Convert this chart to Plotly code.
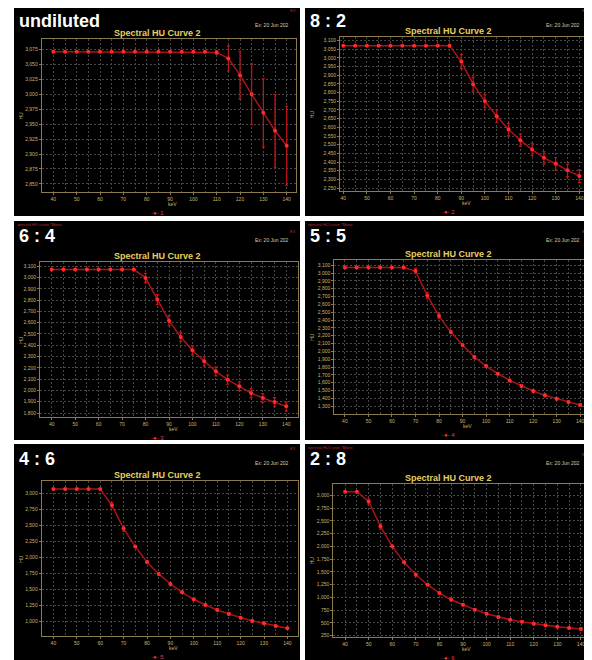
import plotly.graph_objects as go

W, H = 592, 660
OFF = 8  # default page body margin, compensated so the picture lines up with the reference

# ---------------- data ----------------
kev = [40, 45, 50, 55, 60, 65, 70, 75, 80, 85, 90, 95, 100, 105, 110, 115, 120, 125, 130, 135, 140]
x_ticks = [40, 50, 60, 70, 80, 90, 100, 110, 120, 130, 140]

hu_undiluted = [3071, 3071, 3071, 3071, 3071, 3071, 3071, 3071, 3071, 3071, 3071, 3071, 3071, 3071, 3070,
                3060, 3032, 3000, 2969, 2939, 2914]
err_undiluted = [0, 0, 0, 0, 0, 0, 0, 0, 0, 0, 0, 0, 0, 0, 3, 21, 40, 51, 57, 61, 66]

hu_8_2 = [3071, 3071, 3071, 3071, 3071, 3071, 3071, 3071, 3071, 3071,
          2979, 2849, 2750, 2664, 2587, 2526, 2472, 2424, 2390, 2352, 2319]
err_8_2 = [0, 0, 0, 0, 0, 0, 0, 0, 0, 8, 40, 40, 38, 36, 36, 36, 36, 36, 36, 36, 36]

hu_6_4 = [3071, 3071, 3071, 3071, 3071, 3071, 3071, 3071,
          2997, 2805, 2618, 2474, 2355, 2258, 2169, 2095, 2036, 1977, 1933, 1897, 1859]
err_6_4 = [0, 0, 0, 0, 0, 0, 0, 0, 40, 44, 44, 40, 40, 40, 40, 40, 40, 40, 40, 40, 40]

hu_5_5 = [3071, 3071, 3071, 3071, 3071, 3071,
          3025, 2714, 2450, 2246, 2080, 1927, 1812, 1714, 1629, 1557, 1493, 1438, 1395, 1352, 1314]
err_5_5 = [0, 0, 0, 0, 0, 0, 34, 40, 34, 17, 15, 15, 15, 15, 15, 15, 15, 15, 15, 15, 15]

hu_4_6 = [3071, 3071, 3071, 3071, 3071,
          2817, 2452, 2170, 1930, 1742, 1585, 1454, 1345, 1256, 1178, 1115, 1057, 1005, 969, 927, 890]
err_4_6 = [0, 0, 0, 0, 0, 42, 42, 16, 16, 16, 16, 16, 16, 16, 16, 16, 16, 16, 16, 16, 16]

hu_2_8 = [3071, 3071,
          2882, 2393, 2001, 1687, 1445, 1249, 1086, 955, 857, 760, 681, 616, 564, 524, 485, 453, 426, 400, 381]
err_2_8 = [0, 0, 52, 52, 20, 20, 20, 20, 20, 20, 20, 20, 20, 20, 20, 20, 20, 20, 20, 20, 20]

yticks_undiluted = [2850, 2875, 2900, 2925, 2950, 2975, 3000, 3025, 3050, 3075]
yticks_8_2 = [2250, 2300, 2350, 2400, 2450, 2500, 2550, 2600, 2650, 2700, 2750, 2800, 2850, 2900,
              2950, 3000, 3050, 3100]
yticks_6_4 = [1800, 1900, 2000, 2100, 2200, 2300, 2400, 2500, 2600, 2700, 2800, 2900, 3000, 3100]
yticks_5_5 = [1300, 1400, 1500, 1600, 1700, 1800, 1900, 2000, 2100, 2200, 2300, 2400, 2500, 2600,
              2700, 2800, 2900, 3000, 3100]
yticks_4_6 = [1000, 1250, 1500, 1750, 2000, 2250, 2500, 2750, 3000]
yticks_2_8 = [250, 500, 750, 1000, 1250, 1500, 1750, 2000, 2250, 2500, 2750, 3000]

panel_labels = ["undiluted", "8 : 2", "6 : 4", "5 : 5", "4 : 6", "2 : 8"]
series_names = ["1", "2", "3", "4", "5", "6"]
chart_title = "Spectral HU Curve 2"
date_text = "Ex: 20 Jun 202"
mono_text = "spectral HU curve *Mono"

# ---------------- layout (reference pixels) ----------------
panels = [
    dict(hu=hu_undiluted, err=err_undiluted, yt=yticks_undiluted, box=(14, 6, 300, 216),
         plot=(41.7, 39.3, 296, 191.7), xr=[35, 144], yr=[2837, 3092], mono=False),
    dict(hu=hu_8_2, err=err_8_2, yt=yticks_8_2, box=(305, 6, 600, 216),
         plot=(340, 37.3, 585, 191.0), xr=[38.6, 142.4], yr=[2233, 3119], mono=False),
    dict(hu=hu_6_4, err=err_6_4, yt=yticks_6_4, box=(14, 221, 300, 440),
         plot=(40, 262.3, 298, 417.3), xr=[35, 145], yr=[1762, 3135], mono=True),
    dict(hu=hu_5_5, err=err_5_5, yt=yticks_5_5, box=(305, 221, 600, 440),
         plot=(334.3, 259.7, 592, 414), xr=[35.5, 145], yr=[1200, 3170], mono=True),
    dict(hu=hu_4_6, err=err_4_6, yt=yticks_4_6, box=(14, 444, 300, 668),
         plot=(41.7, 481.3, 297.7, 636.3), xr=[35, 144.4], yr=[765, 3193], mono=False),
    dict(hu=hu_2_8, err=err_2_8, yt=yticks_2_8, box=(305, 444, 600, 668),
         plot=(333.3, 483.7, 592, 637), xr=[35, 144.7], yr=[224, 3229], mono=True),
]

FRAME = "#8a7a4c"
TICKC = "#cdb66a"
GRID = "#474747"
TITLEC = "#e9cf5e"
LINEC = "#a8141a"
MARKC = "#ff2b2b"
FONT = "Liberation Sans"

fig = go.Figure()
shapes = []
annotations = []
layout = {}


def px(x):
    return (x - OFF) / W


def py(y):
    return 1 - (y - OFF) / H


for i, p in enumerate(panels):
    n = "" if i == 0 else str(i + 1)
    bx0, by0, bx1, by1 = p["box"]
    shapes.append(dict(type="rect", xref="paper", yref="paper", x0=px(bx0), x1=px(bx1),
                       y0=py(by1), y1=py(by0), fillcolor="black", line=dict(width=0), layer="below"))
    x0, y0, x1, y1 = p["plot"]
    cx = (x0 + min(x1, 592)) / 2       # plot-area centre (axis title)
    pc = bx0 + 143                      # screenshot centre (title, legend)
    fig.add_trace(go.Scatter(
        x=kev, y=p["hu"], mode="lines+markers", xaxis="x" + n, yaxis="y" + n, showlegend=False,
        line=dict(color=LINEC, width=1.5),
        marker=dict(color=MARKC, size=4, symbol="circle"),
        error_y=dict(type="data", array=p["err"], visible=True, color="#c0161c", thickness=1.2, width=1.5),
        cliponaxis=True,
    ))
    layout["xaxis" + n] = dict(
        domain=[max(0, px(x0)), min(1, px(x1))], range=p["xr"], anchor="y" + n,
        tickvals=x_ticks, tickfont=dict(family=FONT, size=5, color=TICKC),
        showgrid=True, gridcolor=GRID, griddash="2px,2px", gridwidth=1,
        minor=dict(tickvals=kev, showgrid=True, gridcolor=GRID, griddash="2px,2px", gridwidth=1),
        showline=True, mirror=True, linecolor=FRAME, linewidth=1, zeroline=False,
        ticks="outside", ticklen=2, tickcolor=FRAME, fixedrange=True,
    )
    layout["yaxis" + n] = dict(
        domain=[py(y1), py(y0)], range=p["yr"], anchor="x" + n,
        tickvals=p["yt"], tickformat=",d", tickfont=dict(family=FONT, size=5, color=TICKC),
        showgrid=True, gridcolor=GRID, griddash="2px,2px", gridwidth=1,
        showline=True, mirror=True, linecolor=FRAME, linewidth=1, zeroline=False,
        ticks="outside", ticklen=2, tickcolor=FRAME, fixedrange=True,
    )
    # panel label
    annotations.append(dict(text=panel_labels[i], x=px(bx0 + 3), y=py(by0 + 15), xref="paper", yref="paper",
                            xanchor="left", yanchor="middle", showarrow=False,
                            font=dict(family=FONT, size=18, color="white", weight="bold")))
    # title
    annotations.append(dict(text=chart_title, x=px(pc), y=py(y0 - 6),
                            xref="paper", yref="paper", xanchor="center", yanchor="middle", showarrow=False,
                            font=dict(family=FONT, size=9, color=TITLEC, weight="bold")))
    # date
    annotations.append(dict(text=date_text, x=px(bx0 + 239), y=py(by0 + 19), xref="paper", yref="paper",
                            xanchor="left", yanchor="middle", showarrow=False,
                            font=dict(family=FONT, size=5, color="#d8cfa8")))
    # tiny red mark top-right
    annotations.append(dict(text="EX", x=px(min(bx1, 592) - 2), y=py(by0 + 4 + (6 if p["mono"] else 0)),
                            xref="paper", yref="paper", xanchor="right", yanchor="middle", showarrow=False,
                            font=dict(family=FONT, size=4, color="#c0282a")))
    if p["mono"]:
        annotations.append(dict(text=mono_text, x=px(bx0 + 1), y=py(by0 + 3), xref="paper", yref="paper",
                                xanchor="left", yanchor="middle", showarrow=False,
                                font=dict(family=FONT, size=4, color="#c0282a")))
    # axis titles
    annotations.append(dict(text="keV", x=px(cx + 4), y=py(y1 + 12), xref="paper",
                            yref="paper", xanchor="center", yanchor="middle", showarrow=False,
                            font=dict(family=FONT, size=5, color=TICKC)))
    annotations.append(dict(text="HU", x=px(bx0 + 7), y=py((y0 + y1) / 2), xref="paper", yref="paper",
                            xanchor="center", yanchor="middle", showarrow=False, textangle=-90,
                            font=dict(family=FONT, size=5, color=TICKC)))
    # legend
    annotations.append(dict(text="<span style='color:#ff2b2b'>-●-</span> " + series_names[i],
                            x=px(pc), y=py(y1 + 21), xref="paper", yref="paper",
                            xanchor="center", yanchor="middle", showarrow=False,
                            font=dict(family=FONT, size=6, color="#e04040")))

fig.update_layout(
    width=W, height=H, margin=dict(l=0, r=0, t=0, b=0),
    paper_bgcolor="white", plot_bgcolor="black",
    shapes=shapes, annotations=annotations, showlegend=False,
    **layout,
)

fig.write_html("out.html")
